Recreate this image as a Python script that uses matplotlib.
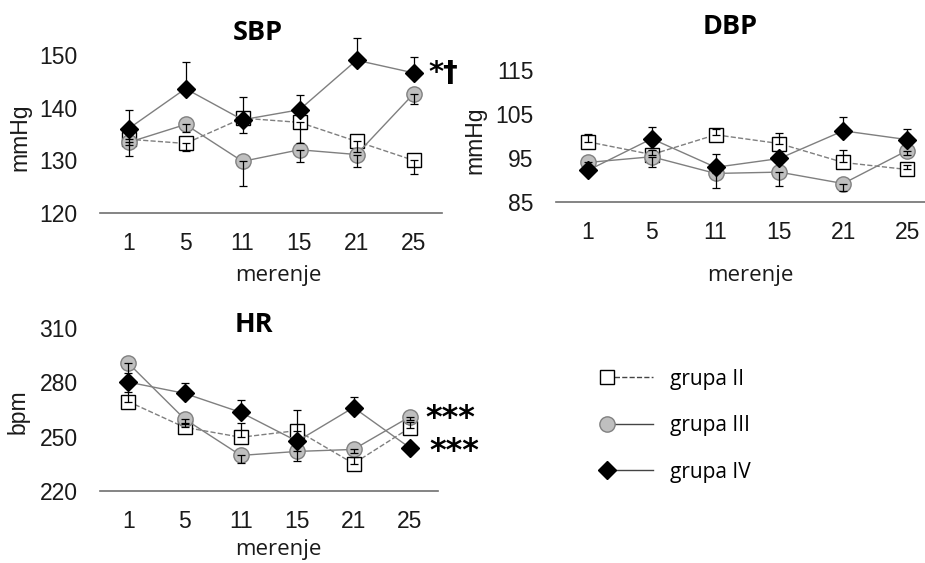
import matplotlib
matplotlib.use("Agg")
import matplotlib.pyplot as plt
from matplotlib.legend_handler import HandlerLine2DCompound
from matplotlib.lines import Line2D

W, H = 925, 563

measurements = ["1", "5", "11", "15", "21", "25"]
groups = ["grupa II", "grupa III", "grupa IV"]

# SBP (mmHg)
sbp_II = [134.0, 133.2, 138.0, 137.2, 133.6, 130.0]
sbp_III = [133.4, 136.8, 129.8, 132.0, 131.1, 142.6]
sbp_IV = [136.0, 143.6, 137.7, 139.6, 149.0, 146.6]
sbp_II_err = [1.0, 1.5, 2.9, 4.0, 2.0, 2.6]      # drawn downward
sbp_III_err = [2.6, 1.5, 4.7, 2.4, 2.4, 2.0]     # drawn downward
sbp_IV_err = [3.6, 5.0, 4.3, 2.8, 4.3, 3.0]      # drawn upward

# DBP (mmHg)
dbp_II = [98.7, 95.8, 100.3, 98.3, 94.0, 92.4]
dbp_III = [94.0, 95.3, 91.5, 91.8, 89.2, 96.7]
dbp_IV = [92.2, 99.4, 92.9, 94.9, 101.2, 99.2]
dbp_II_err = [1.8, 1.0, 1.3, 2.4, 2.9, 1.0]      # upward
dbp_III_err = [1.0, 2.3, 3.4, 3.2, 1.7, 1.0]     # downward
dbp_IV_err = [1.0, 2.7, 3.0, 1.0, 3.1, 2.4]      # upward

# HR (bpm)
hr_II = [269.3, 255.1, 249.6, 253.3, 235.1, 254.8]
hr_III = [290.5, 259.7, 239.6, 241.8, 242.9, 260.9]
hr_IV = [280.0, 273.8, 263.3, 247.4, 266.0, 243.8]
hr_II_err = [5.4, 2.0, 7.7, 11.4, 3.7, 3.0]      # upward
hr_III_err = [5.5, 2.0, 4.0, 5.5, 2.0, 2.0]      # downward
hr_IV_err = [1.5, 5.5, 7.0, 1.5, 6.0, 1.5]       # upward

TICK_FONT = "Liberation Sans"
TEXT_FONT = "Open Sans"
LINE_COL = "#7f7f7f"

styles = {
    "grupa II": dict(marker="s", mfc="white", mec="black", ms=10, ls="--", mew=1.0),
    "grupa III": dict(marker="o", mfc="#bfbfbf", mec="#808080", ms=11, ls="-", mew=1.0),
    "grupa IV": dict(marker="D", mfc="black", mec="black", ms=9, ls="-", mew=1.0),
}

fig = plt.figure(figsize=(W / 100, H / 100), dpi=100)


def box(l, r, b, t):
    return [l / W, 1 - b / H, (r - l) / W, (b - t) / H]


def make_panel(rect, ylim, yticks, series, errs, dirs, ylabel, title, title_xy,
               ylabel_xy, xlabel_xy):
    ax = fig.add_axes(rect)
    x = list(range(len(measurements)))
    for g, vals, e, d in zip(groups, series, errs, dirs):
        st = styles[g]
        ax.plot(x, vals, color=LINE_COL, lw=1.0, zorder=2, **st)
        lo = e if d == "down" else [0] * len(e)
        hi = e if d == "up" else [0] * len(e)
        ax.errorbar(x, vals, yerr=[lo, hi], fmt="none", ecolor="black",
                    elinewidth=0.9, capsize=3, capthick=0.9, zorder=3)
    ax.set_xlim(-0.5, len(measurements) - 0.5)
    ax.set_ylim(*ylim)
    ax.set_yticks(yticks)
    ax.set_xticks(x)
    ax.set_xticklabels(measurements)
    for s in ["top", "right", "left"]:
        ax.spines[s].set_visible(False)
    ax.spines["bottom"].set_color("#6f6f6f")
    ax.spines["bottom"].set_linewidth(1.2)
    ax.tick_params(length=0, labelsize=16.5, pad=16)
    ax.tick_params(axis="x", pad=14)
    for lab in ax.get_xticklabels() + ax.get_yticklabels():
        lab.set_fontfamily(TICK_FONT)
        lab.set_color("#1a1a1a")
    ax.patch.set_visible(False)
    fig.text(ylabel_xy[0] / W, 1 - ylabel_xy[1] / H, ylabel, rotation=90,
             ha="center", va="center", fontsize=16.5, family=TICK_FONT, color="#1a1a1a")
    fig.text(title_xy[0] / W, 1 - title_xy[1] / H, title, ha="center", va="center",
             fontsize=19.5, fontweight="bold", family=TEXT_FONT)
    fig.text(xlabel_xy[0] / W, 1 - xlabel_xy[1] / H,
             "merenje", ha="center", va="center", fontsize=16, family=TEXT_FONT,
             color="#1a1a1a")
    return ax


ax1 = make_panel(box(100, 442, 213, 28.6), (120, 155), [120, 130, 140, 150],
                 [sbp_II, sbp_III, sbp_IV], [sbp_II_err, sbp_III_err, sbp_IV_err],
                 ["down", "down", "up"], "mmHg", "SBP", (258, 33), (20, 137), (278, 275))
ax2 = make_panel(box(556, 939, 202, 57), (85, 118), [85, 95, 105, 115],
                 [dbp_II, dbp_III, dbp_IV], [dbp_II_err, dbp_III_err, dbp_IV_err],
                 ["up", "down", "up"], "mmHg", "DBP", (730, 27), (475, 140), (750, 275))
ax3 = make_panel(box(100, 438, 491, 324), (220, 312), [220, 250, 280, 310],
                 [hr_II, hr_III, hr_IV], [hr_II_err, hr_III_err, hr_IV_err],
                 ["up", "down", "up"], "bpm", "HR", (254, 325), (18, 412), (278, 550))

# significance marks
ax1.annotate("*†", (5, sbp_IV[-1]), xytext=(15, 0), textcoords="offset pixels",
             ha="left", va="center", fontsize=21, fontweight="bold", family="DejaVu Sans")
ax3.annotate("***", (5, hr_III[-1]), xytext=(16, -2), textcoords="offset pixels",
             ha="left", va="center", fontsize=23, fontweight="bold", family="DejaVu Sans")
ax3.annotate("***", (5, hr_IV[-1]), xytext=(20, -4), textcoords="offset pixels",
             ha="left", va="center", fontsize=23, fontweight="bold", family="DejaVu Sans")


class LeftMarkerHandler(HandlerLine2DCompound):
    def get_xdata(self, legend, xdescent, ydescent, width, height, fontsize):
        xdata = [-xdescent, -xdescent + width]
        return xdata, [-xdescent]


handles = []
for g in groups:
    st = dict(styles[g])
    handles.append(Line2D([], [], color="#444444", lw=1.0, **st))
fig.legend(handles, groups, loc="upper left", bbox_to_anchor=(588 / W, 1 - 350 / H),
           frameon=False, handlelength=2.2, handletextpad=0.85, labelspacing=1.22,
           numpoints=1, prop=dict(family=TEXT_FONT, size=15),
           handler_map={h: LeftMarkerHandler() for h in handles})

fig.savefig("out.png", dpi=100)
